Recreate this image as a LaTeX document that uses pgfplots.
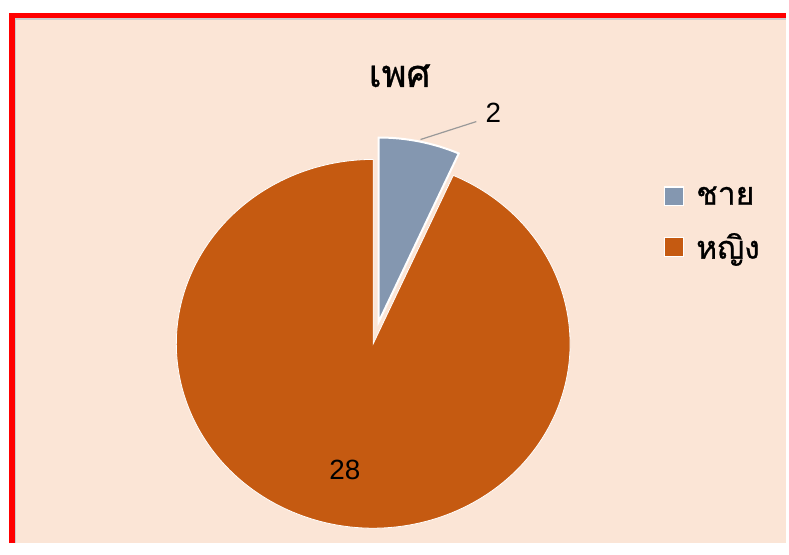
\documentclass[border=0pt]{standalone}
\usepackage{fontspec}
\usepackage{pgfplots}
\usepackage{pgfplotstable}
\pgfplotsset{compat=1.18}
\setmainfont{Liberation Sans}
\newfontfamily\thaifont[Script=Thai,FakeBold=0.8]{Loma}
\definecolor{bgpeach}{HTML}{FBE5D6}
\definecolor{male}{HTML}{8497B0}
\definecolor{female}{HTML}{C55A11}
\pgfplotsset{sqlegend/.style={legend image code/.code={\filldraw[##1] (0bp,-9.5bp) rectangle (19bp,9.5bp);}}}

\pgfplotstableread{
label value
male 2
female 28
}\piedata
\pgfplotstablegetelem{0}{value}\of\piedata \let\vA\pgfplotsretval
\pgfplotstablegetelem{1}{value}\of\piedata \let\vB\pgfplotsretval
\pgfmathsetmacro\total{\vA+\vB}
\pgfmathsetmacro\aA{90-360*\vA/\total}
\pgfmathsetmacro\aB{\aA-360*\vB/\total}
\def\Rx{197.5}
\def\Ry{185}

\begin{document}
\begin{tikzpicture}
\begin{axis}[
  scale only axis, width=789bp, height=545bp,
  xmin=0, xmax=789, ymin=0, ymax=545,
  hide axis, clip=false,
  legend style={at={(axis cs:663,321)}, anchor=west, draw=none, fill=none,
    font=\thaifont\fontsize{32}{36}\selectfont, row sep=23bp,
    /tikz/every odd column/.append style={column sep=10bp}},
  legend cell align=left,
]
% background frame
\fill[white] (axis cs:0,0) rectangle (axis cs:789,545);
\fill[bgpeach] (axis cs:12,0) rectangle (axis cs:789,530);
\draw[black!20, line width=1.2bp] (axis cs:15.8,0) -- (axis cs:15.8,526) -- (axis cs:789,526);
\draw[red, line width=5.5bp] (axis cs:12,0) -- (axis cs:12,529.5) -- (axis cs:789,529.5);

% main slice (female)
\filldraw[fill=female, draw=white, line width=0.8bp]
  (axis cs:374.5,200) -- (axis cs:{374.5+\Rx*cos(\aA)},{200+\Ry*sin(\aA)})
  arc[start angle=\aA, end angle=\aB, x radius=\Rx bp, y radius=\Ry bp] -- cycle;
% exploded slice (male)
\filldraw[fill=male, draw=white, line width=2bp]
  (axis cs:380,222) -- (axis cs:380,{222+\Ry})
  arc[start angle=90, end angle=\aA, x radius=\Rx bp, y radius=\Ry bp] -- cycle;

% data labels
\draw[black!40, line width=1.2bp] (axis cs:422,405) -- (axis cs:478,423);
\node[font=\fontsize{28}{32}\selectfont, anchor=west, inner sep=0pt] at (axis cs:487,432) {2};
\node[font=\fontsize{28}{32}\selectfont, inner sep=0pt] at (axis cs:346,73) {28};

% title
\node[font=\thaifont\fontsize{38}{42}\selectfont, inner sep=0pt] at (axis cs:401,469) {เพศ};

\addlegendimage{sqlegend, fill=male, draw=white, line width=1.5bp}
\addlegendentry{ชาย}
\addlegendimage{sqlegend, fill=female, draw=white, line width=0.5bp}
\addlegendentry{หญิง}
\end{axis}
\end{tikzpicture}
\end{document}
